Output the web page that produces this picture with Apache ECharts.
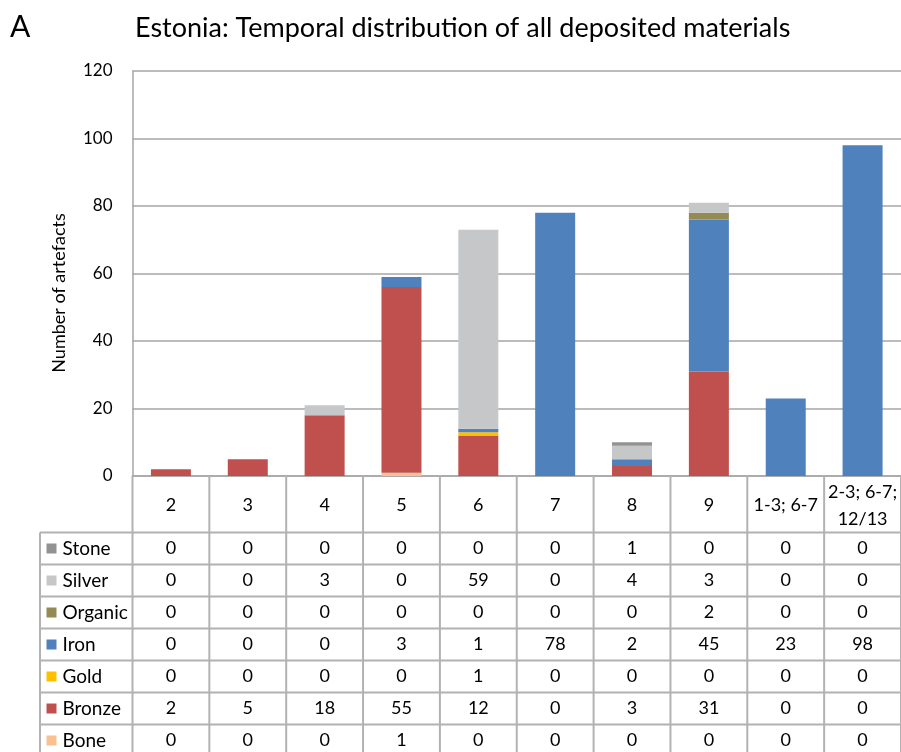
<!DOCTYPE html>
<html>
<head>
<meta charset="utf-8">
<script src="https://cdn.jsdelivr.net/npm/echarts@6/dist/echarts.min.js"></script>
<style>
    html, body { margin: 0; padding: 0; background: #fff; }
    #chart { width: 901px; height: 752px; }
</style>
</head>
<body>
<div id="chart"></div>
<script>
    // periods (columns of the table)
    const categories = ['2', '3', '4', '5', '6', '7', '8', '9', '1-3; 6-7', '2-3; 6-7;\n12/13']

    // material counts per period
    const stone   = [0, 0, 0, 0, 0, 0, 1, 0, 0, 0]
    const silver  = [0, 0, 3, 0, 59, 0, 4, 3, 0, 0]
    const organic = [0, 0, 0, 0, 0, 0, 0, 2, 0, 0]
    const iron    = [0, 0, 0, 3, 1, 78, 2, 45, 23, 98]
    const gold    = [0, 0, 0, 0, 1, 0, 0, 0, 0, 0]
    const bronze  = [2, 5, 18, 55, 12, 0, 3, 31, 0, 0]
    const bone    = [0, 0, 0, 1, 0, 0, 0, 0, 0, 0]

    // table row order (top to bottom); bars stack the other way round
    const materials = ['Stone', 'Silver', 'Organic', 'Iron', 'Gold', 'Bronze', 'Bone']
    const values = {Stone: stone, Silver: silver, Organic: organic, Iron: iron, Gold: gold, Bronze: bronze, Bone: bone}

    const colors = {
        Stone: '#929292',
        Silver: '#c6c7c9',
        Organic: '#948a54',
        Iron: '#4f81bd',
        Gold: '#ffc000',
        Bronze: '#c0504d',
        Bone: '#fac090'
    }

    const FONT = 'Lato'
    const LINE = '#b2b2b2'
    const GRID = '#a6a6a6'

    let chart = echarts.init(document.getElementById('chart'))

    let option = {
        animation: false,
        textStyle: {fontFamily: FONT},
        grid: {left: 132.5, top: 71, width: 771, height: 405},
        xAxis: {
            type: 'category',
            data: categories,
            axisLine: {lineStyle: {color: GRID, width: 1.5}},
            axisTick: {show: false},
            axisLabel: {show: false}
        },
        yAxis: {
            type: 'value',
            min: 0,
            max: 120,
            interval: 20,
            axisLine: {show: true, lineStyle: {color: GRID, width: 1.5}},
            axisTick: {show: false},
            splitLine: {lineStyle: {color: GRID, width: 1.5}},
            axisLabel: {fontSize: 17, color: '#000', margin: 20, fontFamily: FONT}
        },
        series: materials.slice().reverse().map(function (m) {
            return {
                name: m,
                type: 'bar',
                stack: 'all',
                barWidth: 40,
                itemStyle: {color: colors[m]},
                data: values[m]
            }
        })
    }
    chart.setOption(option)

    // table under the plot, placed from the category axis
    let c0 = chart.convertToPixel({xAxisIndex: 0}, 0)
    let c1 = chart.convertToPixel({xAxisIndex: 0}, 1)
    let band = c1 - c0
    let left = c0 - band / 2
    let right = left + band * categories.length
    let y0 = chart.convertToPixel({yAxisIndex: 0}, 0)
    let headH = 56.5
    let rowH = 32
    let tableLeft = 40
    let bottom = y0 + headH + rowH * materials.length

    let g = []
    let txt = function (x, y, s, size, align) {
        return {
            type: 'text', x: x, y: y, z: 10,
            style: {text: s, fontSize: size, fontFamily: FONT, fill: '#000', align: align || 'center', verticalAlign: 'middle', lineHeight: 27}
        }
    }
    let line = function (x1, y1, x2, y2) {
        return {type: 'line', z: 5, shape: {x1: x1, y1: y1, x2: x2, y2: y2}, style: {stroke: LINE, lineWidth: 2}}
    }

    // vertical lines
    for (let i = 0; i <= categories.length; i++) {
        g.push(line(left + i * band, y0, left + i * band, bottom))
    }
    g.push(line(tableLeft, y0 + headH, tableLeft, bottom))
    // horizontal lines
    for (let r = 0; r <= materials.length; r++) {
        g.push(line(tableLeft, y0 + headH + r * rowH, right, y0 + headH + r * rowH))
    }
    // header labels
    for (let i = 0; i < categories.length; i++) {
        g.push(txt(c0 + i * band, y0 + headH / 2 + 1, categories[i], 18))
    }
    // rows
    materials.forEach(function (m, r) {
        let yc = y0 + headH + r * rowH + rowH / 2
        g.push({type: 'rect', z: 10, shape: {x: 46.5, y: yc - 5, width: 10, height: 10}, style: {fill: colors[m]}})
        g.push(txt(62.5, yc, m, 19, 'left'))
        values[m].forEach(function (v, i) {
            g.push(txt(c0 + i * band, yc, String(v), 18))
        })
    })

    // titles
    g.push(txt(10, 27, 'A', 30, 'left'))
    g.push(txt(135, 28, 'Estonia: Temporal distribution of all deposited materials', 27, 'left'))
    g.push({
        type: 'text', x: 59, y: 293, rotation: Math.PI / 2, z: 10,
        style: {text: 'Number of artefacts', fontSize: 18, fontFamily: FONT, fill: '#000', align: 'center', verticalAlign: 'middle'}
    })

    chart.setOption({graphic: g})
</script>
</body>
</html>
